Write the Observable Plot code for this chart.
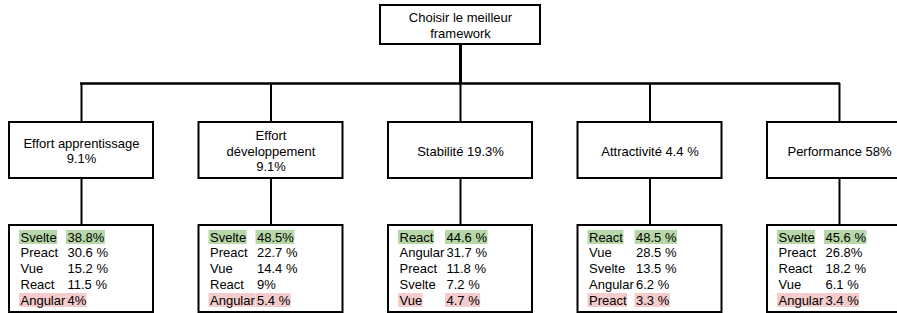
<!DOCTYPE html>
<html><head><meta charset="utf-8">
<script src="https://cdn.jsdelivr.net/npm/d3@7"></script>
<script src="https://cdn.jsdelivr.net/npm/@observablehq/plot@0.6"></script>
<style>html,body{margin:0;padding:0;background:#fff;} #chart svg{display:block;}</style>
</head><body><div id="chart"></div>
<script>
// ---- data ----
const goalLabel = "Choisir le meilleur\nframework";
const criteria = ["Effort apprentissage", "Effort développement", "Stabilité", "Attractivité", "Performance"];
const criteriaLabels = ["Effort apprentissage\n9.1%", "Effort\ndéveloppement\n9.1%", "Stabilité 19.3%", "Attractivité 4.4 %", "Performance 58%"];

const namesApprentissage = ["Svelte", "Preact", "Vue", "React", "Angular"];
const scoresApprentissage = ["38.8%", "30.6 %", "15.2 %", "11.5 %", "4%"];
const namesDeveloppement = ["Svelte", "Preact", "Vue", "React", "Angular"];
const scoresDeveloppement = ["48.5%", "22.7 %", "14.4 %", "9%", "5.4 %"];
const namesStabilite = ["React", "Angular", "Preact", "Svelte", "Vue"];
const scoresStabilite = ["44.6 %", "31.7 %", "11.8 %", "7.2 %", "4.7 %"];
const namesAttractivite = ["React", "Vue", "Svelte", "Angular", "Preact"];
const scoresAttractivite = ["48.5 %", "28.5 %", "13.5 %", "6.2 %", "3.3 %"];
const namesPerformance = ["Svelte", "Preact", "React", "Vue", "Angular"];
const scoresPerformance = ["45.6 %", "26.8%", "18.2 %", "6.1 %", "3.4 %"];

const rankNames = [namesApprentissage, namesDeveloppement, namesStabilite, namesAttractivite, namesPerformance];
const rankScores = [scoresApprentissage, scoresDeveloppement, scoresStabilite, scoresAttractivite, scoresPerformance];

// ---- layout ----
const W = 897, H = 313;
const FONT = "Liberation Sans", FS = 13;
const cx = d3.scalePoint().domain(criteria).range([81, 839]);
const halfW = 72;
const root = {x: cx(criteria[2]), y1: 5, y2: 44, half: 80};
const busY = 83;
const mid = {y1: 122, y2: 178};
const bot = {y1: 225, y2: 312, row0: 237, step: 15.75, labelDx: 11, valueDx: 58};
const GREEN = "#b6d7a8", PINK = "#f4cccc";

const ctx = document.createElement("canvas").getContext("2d");
ctx.font = `${FS}px "${FONT}"`;
const tw = s => ctx.measureText(s).width;

const midBoxes = criteria.map((c, i) => ({c, label: criteriaLabels[i], x: cx(c), x1: cx(c) - halfW, x2: cx(c) + halfW, y1: mid.y1, y2: mid.y2}));
const botBoxes = criteria.map(c => ({c, x: cx(c), x1: cx(c) - halfW, x2: cx(c) + halfW, y1: bot.y1, y2: bot.y2}));

const rows = [];
criteria.forEach((c, i) => {
  rankNames[i].forEach((n, j) => {
    const left = cx(c) - halfW;
    rows.push({c, name: n, score: rankScores[i][j], rank: j,
      lx: left + bot.labelDx, vx: left + bot.valueDx, y: bot.row0 + j * bot.step,
      hl: j === 0 ? GREEN : j === rankNames[i].length - 1 ? PINK : null});
  });
});
const hlRects = [];
rows.filter(r => r.hl).forEach(r => {
  hlRects.push({x1: r.lx - 1, x2: r.lx + tw(r.name) + 1, y1: r.y - 7, y2: r.y + 7, fill: r.hl});
  hlRects.push({x1: r.vx - 1, x2: r.vx + tw(r.score) + 1, y1: r.y - 7, y2: r.y + 7, fill: r.hl});
});

const chart = Plot.plot({
  width: W, height: H, margin: 0,
  x: {type: "linear", domain: [0, W], range: [0, W], axis: null},
  y: {type: "linear", domain: [0, H], range: [0, H], axis: null},
  style: {fontFamily: `"${FONT}", Arial, sans-serif`, fontSize: FS + "px", background: "#fff"},
  marks: [
    // connectors
    Plot.ruleX([root.x], {y1: root.y2, y2: busY, stroke: "black", strokeWidth: 3}),
    Plot.ruleY([busY], {x1: cx(criteria[0]) - 1, x2: cx(criteria[4]) + 1, stroke: "black", strokeWidth: 2.5}),
    Plot.ruleX(midBoxes, {x: "x", y1: busY, y2: mid.y1, stroke: "black", strokeWidth: 2}),
    Plot.ruleX(midBoxes, {x: "x", y1: mid.y2, y2: bot.y1, stroke: "black", strokeWidth: 2}),
    // boxes
    Plot.rect([root], {x1: d => d.x - d.half, x2: d => d.x + d.half, y1: "y1", y2: "y2", fill: "white", stroke: "black", strokeWidth: 2}),
    Plot.rect(midBoxes, {x1: "x1", x2: "x2", y1: "y1", y2: "y2", fill: "white", stroke: "black", strokeWidth: 2}),
    Plot.rect(botBoxes, {x1: "x1", x2: "x2", y1: "y1", y2: "y2", fill: "white", stroke: "black", strokeWidth: 2}),
    // highlights
    Plot.rect(hlRects, {x1: "x1", x2: "x2", y1: "y1", y2: "y2", fill: d => d.fill}),
    // text
    Plot.text([root], {x: "x", y: d => (d.y1 + d.y2) / 2, text: () => goalLabel, fontSize: FS, fill: "black", lineHeight: 1.2}),
    Plot.text(midBoxes, {x: "x", y: d => (d.y1 + d.y2) / 2, text: "label", fontSize: FS, fill: "black", lineHeight: 1.2}),
    Plot.text(rows, {x: "lx", y: "y", text: "name", textAnchor: "start", fontSize: FS, fill: "black"}),
    Plot.text(rows, {x: "vx", y: "y", text: "score", textAnchor: "start", fontSize: FS, fill: "black"})
  ]
});
document.getElementById("chart").append(chart);
</script>
</body></html>
